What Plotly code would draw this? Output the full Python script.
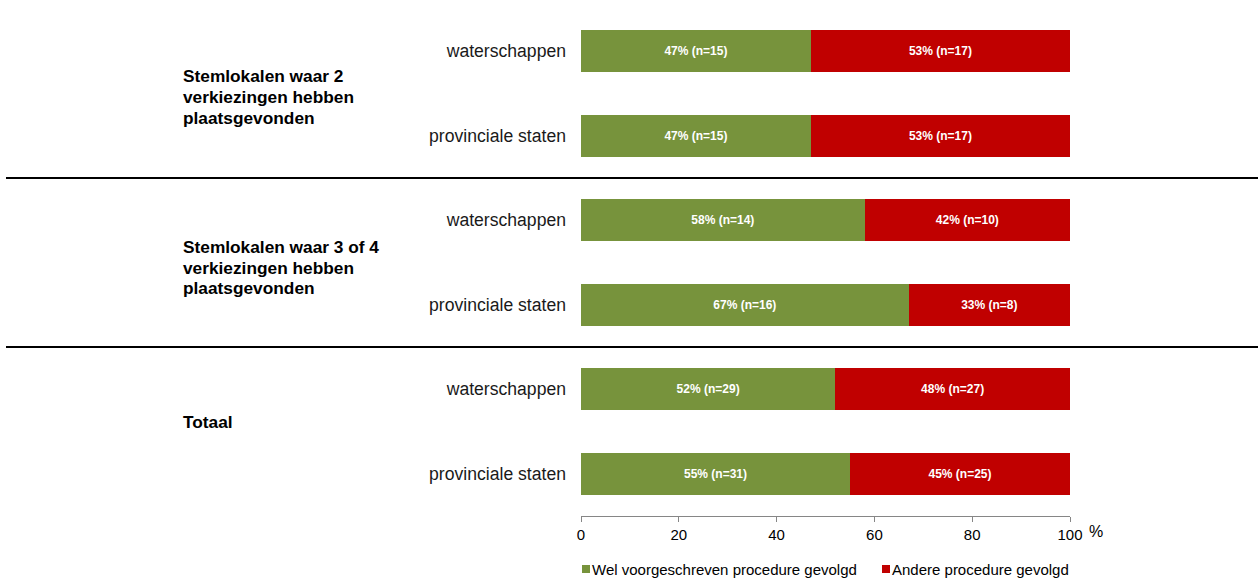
import plotly.graph_objects as go

# Survey results per election type, grouped by number of elections held at the polling station
groups = [
    ["Stemlokalen waar 2", "verkiezingen hebben", "plaatsgevonden"],
    ["Stemlokalen waar 3 of 4", "verkiezingen hebben", "plaatsgevonden"],
    ["Totaal"],
]
rows = ["waterschappen", "provinciale staten"] * 3
wel_pct = [47, 47, 58, 67, 52, 55]
wel_n = [15, 15, 14, 16, 29, 31]
andere_pct = [53, 53, 42, 33, 48, 45]
andere_n = [17, 17, 10, 8, 27, 25]
x_ticks = [0, 20, 40, 60, 80, 100]
series_names = ["Wel voorgeschreven procedure gevolgd", "Andere procedure gevolgd"]

GREEN = "#77933C"
RED = "#C00000"
FONT = "Liberation Sans, Arial, sans-serif"

pos = list(range(len(rows)))

fig = go.Figure()
for name, pct, n, color in [
    (series_names[0], wel_pct, wel_n, GREEN),
    (series_names[1], andere_pct, andere_n, RED),
]:
    fig.add_trace(go.Bar(
        y=pos, x=pct, orientation="h", name=name,
        marker=dict(color=color, line=dict(width=0)),
        text=[f"{p}% (n={k})" for p, k in zip(pct, n)],
        textposition="inside", insidetextanchor="middle",
        textfont=dict(family=FONT, size=12, color="white", weight="bold"),
        showlegend=False,
    ))

W, H = 1258, 586
L, R, T, B = 581, W - 1070, 9, H - 516
pw = W - L - R
ph = H - T - B

def px_to_paper_x(px):
    return (px - L) / pw

def px_to_paper_y(px):
    return 1 - (px - T) / ph

shapes = []
# group separators
for yv in [-0.53, 1.5, 3.5]:
    shapes.append(dict(type="line", xref="paper", yref="y",
                       x0=px_to_paper_x(6), x1=px_to_paper_x(1258), y0=yv, y1=yv,
                       line=dict(color="#000000", width=2)))

annotations = []
# group titles, one annotation per line for tighter leading
group_mid = [0.54, 2.56, 4.39]
line_step = 0.245
for lines, mid in zip(groups, group_mid):
    first = mid - line_step * (len(lines) - 1) / 2
    for j, line in enumerate(lines):
        annotations.append(dict(
            xref="paper", yref="y", x=px_to_paper_x(181), y=first + j * line_step,
            text=f"<b>{line}</b>", showarrow=False, xanchor="left", yanchor="middle",
            font=dict(family=FONT, size=17.3, color="#000000"),
        ))
annotations.append(dict(
    xref="paper", yref="paper", x=px_to_paper_x(1087), y=px_to_paper_y(531),
    text="%", showarrow=False, xanchor="left", yanchor="middle",
    font=dict(family=FONT, size=16, color="#000000"),
))

# legend drawn as swatches + labels below the axis
legend_items = [(series_names[0], GREEN, 582), (series_names[1], RED, 882)]
for name, color, x0 in legend_items:
    shapes.append(dict(type="rect", xref="paper", yref="paper",
                       x0=px_to_paper_x(x0), x1=px_to_paper_x(x0 + 8),
                       y0=px_to_paper_y(573), y1=px_to_paper_y(565),
                       fillcolor=color, line=dict(width=0)))
    annotations.append(dict(
        xref="paper", yref="paper", x=px_to_paper_x(x0 + 8), y=px_to_paper_y(569),
        text=name, showarrow=False, xanchor="left", yanchor="middle",
        font=dict(family=FONT, size=15, color="#000000"),
    ))

fig.update_layout(
    barmode="stack",
    bargap=0.5,
    width=W, height=H,
    margin=dict(l=L, r=R, t=T, b=B),
    plot_bgcolor="white", paper_bgcolor="white",
    shapes=shapes, annotations=annotations,
    xaxis=dict(range=[0, 100], tickvals=x_ticks, showgrid=False, zeroline=False,
               showline=True, linecolor="#868686", linewidth=1,
               ticks="outside", ticklen=5, tickcolor="#868686",
               tickfont=dict(family=FONT, size=15, color="#000000")),
    yaxis=dict(range=[len(rows) - 0.5, -0.5], tickvals=pos, ticktext=rows,
               showgrid=False, zeroline=False, showline=False, ticks="",
               ticklabelstandoff=14,
               tickfont=dict(family=FONT, size=17.6, color="#1a1a1a")),
    uniformtext=dict(minsize=8, mode="show"),
)

fig.write_html("out.html")
